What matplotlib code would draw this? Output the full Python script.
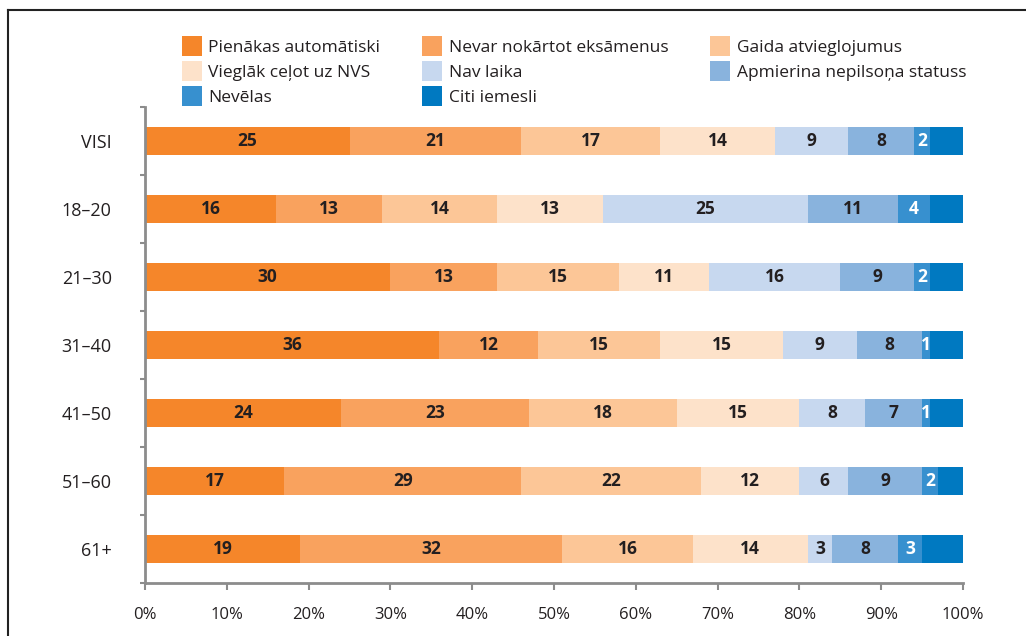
import numpy as np
import matplotlib
matplotlib.use('Agg')
from matplotlib import pyplot as plt
from matplotlib.lines import Line2D

plt.rcParams['font.family'] = ['Open Sans', 'DejaVu Sans']

groups = ['VISI', '18–20', '21–30', '31–40', '41–50', '51–60', '61+']
series = ['Pienākas automātiski', 'Nevar nokārtot eksāmenus', 'Gaida atvieglojumus',
          'Vieglāk ceļot uz NVS', 'Nav laika', 'Apmierina nepilsoņa statuss',
          'Nevēlas', 'Citi iemesli']
pienakas = [25, 16, 30, 36, 24, 17, 19]
nevar = [21, 13, 13, 12, 23, 29, 32]
gaida = [17, 14, 15, 15, 18, 22, 16]
vieglak = [14, 13, 11, 15, 15, 12, 14]
nav_laika = [9, 25, 16, 9, 8, 6, 3]
apmierina = [8, 11, 9, 8, 7, 9, 8]
nevelas = [2, 4, 2, 1, 1, 2, 3]
citi = [4, 4, 4, 4, 4, 3, 5]

colors = ['#F5862A', '#F9A25E', '#FCC697', '#FDE2CA', '#C7D8EF', '#89B3DD', '#3790CF', '#0079C1']
txt_colors = ['#231F20'] * 6 + ['white', None]

data = [pienakas, nevar, gaida, vieglak, nav_laika, apmierina, nevelas, citi]

fig = plt.figure(figsize=(10.26, 6.36), dpi=100)
ax = fig.add_axes([145/1026, 1-583/636, 818/1026, 476/636])

y = np.arange(len(groups))
left = np.zeros(len(groups))
handles = []
for vals, col, tc, name in zip(data, colors, txt_colors, series):
    vals = np.array(vals, dtype=float)
    ax.barh(y, vals, left=left, height=0.42, color=col, linewidth=0)
    if tc is not None:
        for yi, (l, v) in enumerate(zip(left, vals)):
            ax.text(l + v/2, yi, '%d' % v, ha='center', va='center',
                    fontsize=12.5, fontweight='bold', color=tc)
    handles.append(Line2D([], [], marker='s', linestyle='none', markersize=15,
                          markerfacecolor=col, markeredgewidth=0, label=name))
    left += vals

ax.set_xlim(0, 100)
ax.set_ylim(len(groups)-0.5, -0.5)
ax.set_xticks(np.arange(0, 101, 10))
ax.set_xticklabels(['%d%%' % v for v in range(0, 101, 10)])
ax.set_yticks(y)
ax.set_yticklabels(groups)
ax.set_yticks(np.arange(-0.5, len(groups)), minor=True)
ax.tick_params(axis='y', which='major', length=0, pad=24, labelsize=13, labelcolor='#231F20')
ax.tick_params(axis='y', which='minor', length=3.5, width=1.5, color='#8C8C8C')
ax.tick_params(axis='x', which='major', length=5, width=1.5, color='#8C8C8C',
               pad=12, labelsize=12, labelcolor='#231F20')
for s in ['top', 'right']:
    ax.spines[s].set_visible(False)
for s in ['left', 'bottom']:
    ax.spines[s].set_color('#8C8C8C')
    ax.spines[s].set_linewidth(2)

order = [0, 3, 6, 1, 4, 7, 2, 5]
fig.legend([handles[i] for i in order], [series[i] for i in order], ncol=3,
           loc='upper left', bbox_to_anchor=(176/1026, 1-33/636), frameon=False,
           fontsize=12.5, handletextpad=0.45, columnspacing=2.5, labelspacing=0.5,
           handlelength=1.0, borderaxespad=0, labelcolor='#231F20')

# partial frame around the figure
fig.add_artist(Line2D([8/1026, 8/1026], [0, 1-10/636], color='#222222', linewidth=1.5,
                      transform=fig.transFigure))
fig.add_artist(Line2D([8/1026, 1], [1-10/636, 1-10/636], color='#222222', linewidth=1.5,
                      transform=fig.transFigure))

fig.savefig('out.png', dpi=100)
